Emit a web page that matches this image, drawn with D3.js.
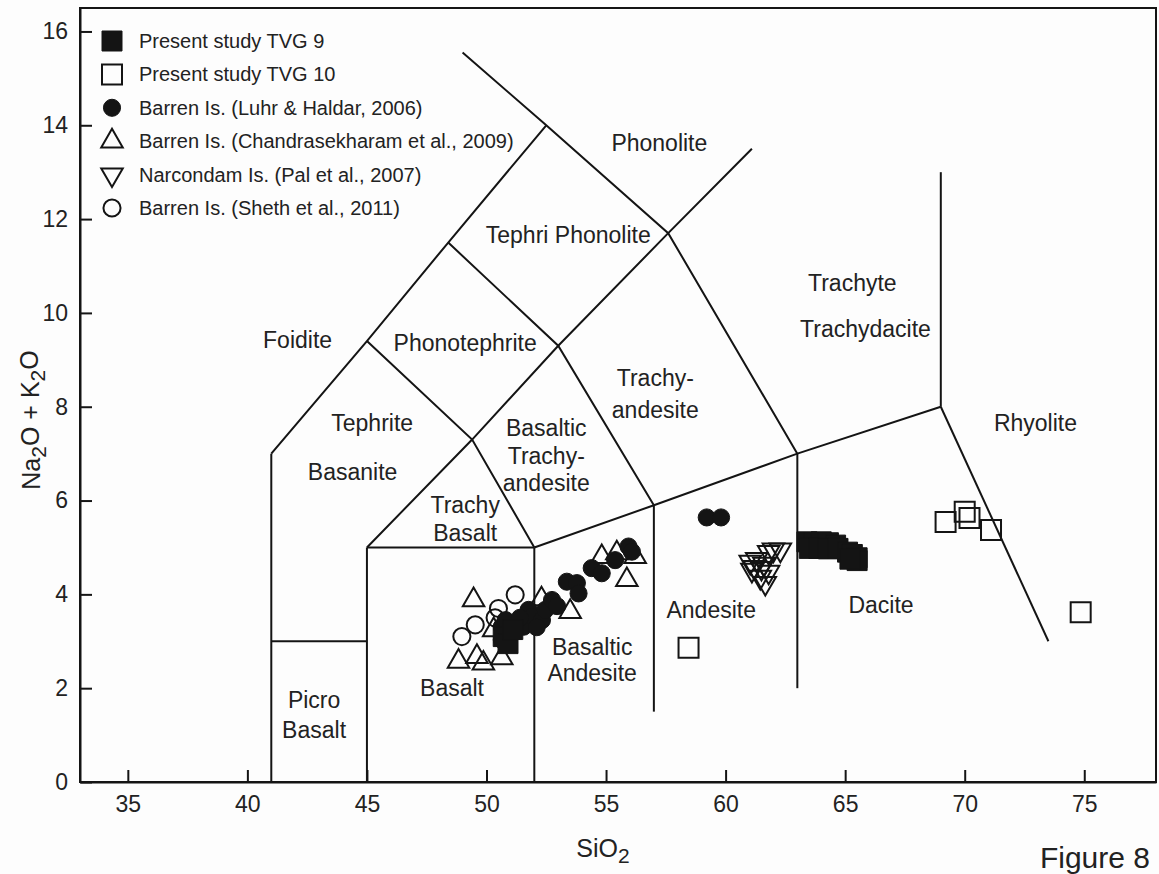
<!DOCTYPE html>
<html>
<head>
<meta charset="utf-8">
<script src="https://cdn.jsdelivr.net/npm/d3@7"></script>
<style>
body { margin: 0; background: #fdfdfd; }
svg { display: block; font-family: "Liberation Sans", Arial, Helvetica, sans-serif; }
</style>
</head>
<body>
<div id="chart"></div>
<script>
var width = 1159,
    height = 874;

// tick values
var xTicks = [35, 40, 45, 50, 55, 60, 65, 70, 75];
var yTicks = [0, 2, 4, 6, 8, 10, 12, 14, 16];

// samples: [SiO2, Na2O + K2O]
var tvg9 = [[50.7, 3.1], [50.9, 2.95], [51.1, 3.25],
            [63.4, 5.12], [63.7, 5.1], [64.0, 5.12], [64.3, 5.1], [64.6, 5.05],
            [63.5, 4.98], [63.9, 4.98], [64.3, 4.97], [64.7, 4.98], [65.1, 4.9],
            [65.3, 4.85], [65.5, 4.78], [65.5, 4.72], [65.2, 4.75]];
var tvg10 = [[58.45, 2.86], [69.2, 5.54], [70.0, 5.76], [70.2, 5.63], [71.1, 5.37], [74.85, 3.62]];
var luhr = [[50.64, 3.03], [50.64, 3.31], [50.92, 3.17], [51.2, 3.24], [51.55, 3.31], [51.76, 3.67],
            [51.9, 3.52], [52.32, 3.45], [52.46, 3.67], [52.74, 3.88], [53.36, 4.27], [53.78, 4.24],
            [53.85, 4.02], [54.4, 4.56], [54.82, 4.45], [55.38, 4.73], [55.94, 5.02], [56.08, 4.91],
            [50.8, 3.45], [51.4, 3.5], [52.1, 3.3], [52.95, 3.75],
            [59.21, 5.64], [59.81, 5.64]];
var chandra = [[49.46, 3.88], [48.83, 2.57], [49.6, 2.67], [49.87, 2.53], [50.64, 2.64], [50.3, 3.24],
               [52.3, 3.9], [53.5, 3.63], [55.87, 4.31], [54.82, 4.8], [55.45, 4.88], [56.22, 4.8]];
var pal = [[62.29, 4.95], [62.0, 4.95], [61.8, 4.9], [61.03, 4.69], [61.1, 4.52], [61.45, 4.37],
           [61.66, 4.24], [61.2, 4.58], [61.5, 4.56], [61.8, 4.48], [61.3, 4.75], [61.6, 4.65]];
var sheth = [[51.2, 3.99], [50.5, 3.7], [49.53, 3.35], [48.97, 3.1], [50.36, 3.5]];

var seriesNames = ["Present study TVG 9", "Present study TVG 10", "Barren Is. (Luhr & Haldar, 2006)",
                   "Barren Is. (Chandrasekharam et al., 2009)", "Narcondam Is. (Pal et al., 2007)",
                   "Barren Is. (Sheth et al., 2011)"];

// TAS field boundaries (Le Bas et al., 1986)
var boundaries = [
  [[41, 0], [41, 7]],
  [[41, 3], [45, 3]],
  [[45, 0], [45, 5]],
  [[45, 5], [52, 5]],
  [[52, 0], [52, 5]],
  [[52, 5], [57, 5.9], [63, 7], [69, 8]],
  [[57, 1.5], [57, 5.9]],
  [[63, 2], [63, 7]],
  [[69, 8], [69, 13]],
  [[69, 8], [73.5, 3]],
  [[41, 7], [45, 9.4], [48.4, 11.5], [52.5, 14]],
  [[49, 15.55], [52.5, 14], [57.6, 11.7], [63, 7]],
  [[45, 5], [49.4, 7.3], [53, 9.3], [57.6, 11.7], [61.1, 13.5]],
  [[52, 5], [49.4, 7.3], [45, 9.4]],
  [[48.4, 11.5], [53, 9.3], [57, 5.9]]
];

var fieldLabels = [
  ["Phonolite", 57.23, 13.62], ["Tephri Phonolite", 53.42, 11.66], ["Foidite", 42.1, 9.42],
  ["Phonotephrite", 49.11, 9.36], ["Tephrite", 45.22, 7.66], ["Basanite", 44.4, 6.61],
  ["Trachy", 49.11, 5.91], ["Basalt", 49.11, 5.31],
  ["Basaltic", 52.5, 7.55], ["Trachy-", 52.5, 6.95], ["andesite", 52.5, 6.37],
  ["Trachy-", 57.06, 8.61], ["andesite", 57.06, 7.93],
  ["Trachyte", 65.3, 10.64], ["Trachydacite", 65.85, 9.66], ["Rhyolite", 72.96, 7.65],
  ["Andesite", 59.4, 3.67], ["Dacite", 66.5, 3.77],
  ["Picro", 42.79, 1.75], ["Basalt", 42.79, 1.11], ["Basalt", 48.56, 2.0],
  ["Basaltic", 54.42, 2.88], ["Andesite", 54.42, 2.32]
];

var x = d3.scaleLinear().domain([33, 78]).range([80, 1156]);
var y = d3.scaleLinear().domain([0, 16.5]).range([782, 8]);

var svg = d3.select("#chart").append("svg")
    .attr("width", width)
    .attr("height", height);

var ink = "#141414";

// frame
svg.append("rect")
    .attr("x", x(33)).attr("y", y(16.5))
    .attr("width", x(78) - x(33)).attr("height", y(0) - y(16.5))
    .style("fill", "none").style("stroke", ink).style("stroke-width", 2);

// axes
var xAxis = svg.append("g")
    .attr("transform", "translate(0," + y(0) + ")")
    .call(d3.axisBottom(x).tickValues(xTicks).tickSizeInner(-12).tickSizeOuter(0).tickPadding(14));
var yAxis = svg.append("g")
    .attr("transform", "translate(" + x(33) + ",0)")
    .call(d3.axisLeft(y).tickValues(yTicks).tickSizeInner(-12).tickSizeOuter(0).tickPadding(12));

[xAxis, yAxis].forEach(function(g) {
  g.attr("font-family", null).attr("font-size", null);
  g.select(".domain").style("stroke", ink).style("stroke-width", 2);
  g.selectAll(".tick line").style("stroke", ink).style("stroke-width", 2);
  g.selectAll(".tick text").style("font-size", "23px").style("fill", "#222");
});

// boundaries
var line = d3.line()
    .x(function(d) { return x(d[0]); })
    .y(function(d) { return y(d[1]); });

svg.append("g").selectAll("path")
    .data(boundaries)
  .enter().append("path")
    .attr("d", line)
    .style("fill", "none")
    .style("stroke", ink)
    .style("stroke-width", 2)
    .style("stroke-linejoin", "miter");

// field names
svg.append("g").selectAll("text")
    .data(fieldLabels)
  .enter().append("text")
    .attr("x", function(d) { return x(d[1]); })
    .attr("y", function(d) { return y(d[2]); })
    .attr("dy", "0.35em")
    .attr("text-anchor", "middle")
    .style("font-size", "23px")
    .style("fill", "#222")
    .text(function(d) { return d[0]; });

// markers
var shapes = {
  square: d3.symbol().type(d3.symbolSquare).size(400),
  circle: d3.symbol().type(d3.symbolCircle).size(230),
  triangle: d3.symbol().type(d3.symbolTriangle).size(200)
};
var styles = [
  {shape: "square", fill: true, rot: 0},
  {shape: "square", fill: false, rot: 0},
  {shape: "circle", fill: true, rot: 0},
  {shape: "triangle", fill: false, rot: 0},
  {shape: "triangle", fill: false, rot: 180},
  {shape: "circle", fill: false, rot: 0}
];
var seriesData = [tvg9, tvg10, luhr, chandra, pal, sheth];
var drawOrder = [3, 5, 4, 2, 0, 1];

function drawMarker(g, i, px, py) {
  var s = styles[i];
  g.append("path")
    .attr("d", shapes[s.shape]())
    .attr("transform", "translate(" + px + "," + py + ") rotate(" + s.rot + ")")
    .style("fill", s.fill ? ink : "none")
    .style("stroke", ink)
    .style("stroke-width", s.fill ? 1 : 2);
}

var pts = svg.append("g");
drawOrder.forEach(function(i) {
  seriesData[i].forEach(function(d) {
    drawMarker(pts, i, x(d[0]), y(d[1]));
  });
});

// legend
var legend = svg.append("g");
seriesNames.forEach(function(name, i) {
  var ly = 41 + i * 33.4;
  drawMarker(legend, i, 112, ly);
  legend.append("text")
    .attr("x", 139).attr("y", ly).attr("dy", "0.35em")
    .style("font-size", "20px").style("fill", "#222")
    .text(name);
});

// axis titles
var yt = svg.append("text")
    .attr("transform", "translate(40,420) rotate(-90)")
    .attr("text-anchor", "middle")
    .style("font-size", "25px").style("fill", "#222");
yt.append("tspan").text("Na");
yt.append("tspan").attr("dy", "0.3em").style("font-size", "21px").text("2");
yt.append("tspan").attr("dy", "-0.3em").text("O + K");
yt.append("tspan").attr("dy", "0.3em").style("font-size", "21px").text("2");
yt.append("tspan").attr("dy", "-0.3em").text("O");

var xt = svg.append("text")
    .attr("x", 603).attr("y", 857)
    .attr("text-anchor", "middle")
    .style("font-size", "25px").style("fill", "#222");
xt.append("tspan").text("SiO");
xt.append("tspan").attr("dy", "0.3em").style("font-size", "21px").text("2");

svg.append("text")
    .attr("x", 1150).attr("y", 868)
    .attr("text-anchor", "end")
    .style("font-size", "30px").style("fill", "#222")
    .text("Figure 8");
</script>
</body>
</html>
